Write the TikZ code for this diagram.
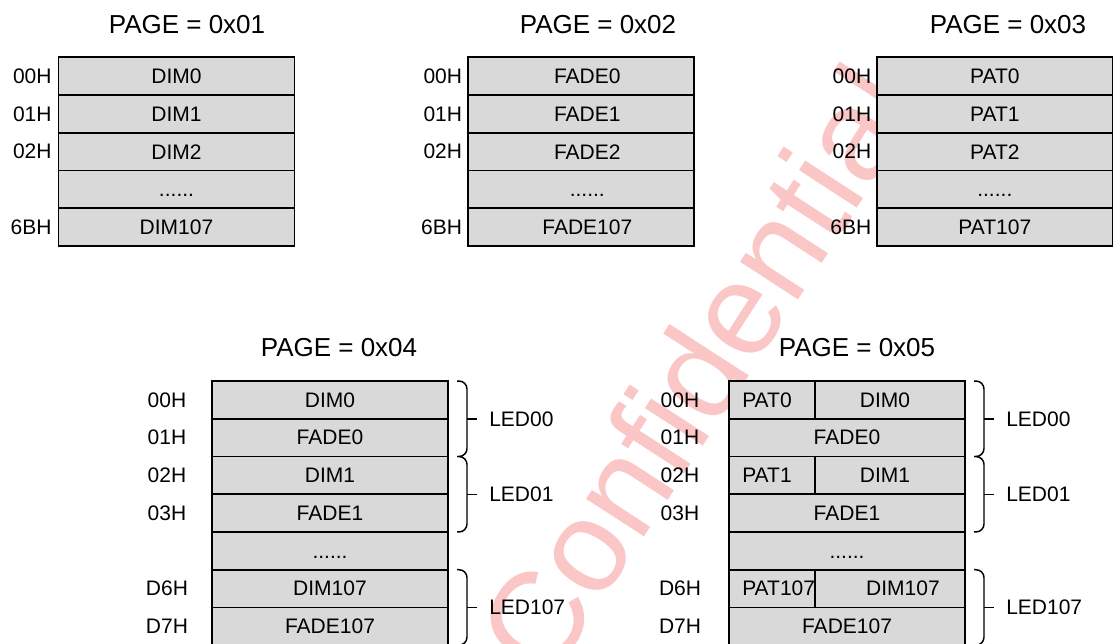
\documentclass[tikz,border=0pt]{standalone}
\usepackage{fontspec}
\setmainfont{Liberation Sans}
\usetikzlibrary{positioning}

\definecolor{cellgray}{RGB}{217,217,217}
\definecolor{markpink}{RGB}{250,198,198}
\newcommand{\cellfont}{\fontsize{15.75}{18}\selectfont}
\newcommand{\pagefont}{\fontsize{19.5}{22}\selectfont}

\tikzset{
  cell/.style={draw, fill=cellgray, line width=1.3pt, inner sep=0pt, outer sep=0pt,
    minimum height=28.3pt, font=\cellfont},
  wide/.style={cell, minimum width=177pt},
  narrow/.style={cell, minimum width=169.5pt},
  patcell/.style={cell, minimum width=64.5pt},
  dimcell/.style={cell, minimum width=112.5pt},
  txt/.style={inner sep=0pt, font=\cellfont},
  addr/.style={inner sep=0pt, font=\cellfont},
  pagetitle/.style={inner sep=0pt, font=\pagefont},
  ledbrace/.style={line width=1.1pt, rounded corners=6pt},
  watermark/.style={inner sep=0pt, text=markpink, rotate=57,
    font=\fontsize{98}{108}\selectfont},
}

\begin{document}
\begin{tikzpicture}[x=0.75pt,y=0.75pt,yscale=-1,xscale=1]
\useasboundingbox (0,0) rectangle (1113,643);

% Watermark
\node[watermark] (wm) at (697,370) {Confidential};

%PAGE = 0x01
\node[pagetitle] (p1) at (187,24.7) {PAGE = 0x01};
\node[wide] (b1a) at (176.5,76.2) {DIM0};
\node[wide, below=0pt of b1a] (b1b) {DIM1};
\node[wide, below=0pt of b1b] (b1c) {DIM2};
\node[wide, below=0pt of b1c] (b1d) {\vphantom{0}......};
\node[wide, below=0pt of b1d] (b1e) {DIM107};
% Text Node
\node[addr, left=5pt of b1a] (a1a) {00H};
\node[addr, left=5pt of b1b] (a1b) {01H};
\node[addr, left=5pt of b1c] (a1c) {02H};
\node[addr, left=5pt of b1e] (a1e) {6BH};

%PAGE = 0x02
\node[pagetitle] (p2) at (598,24.7) {PAGE = 0x02};
\node[narrow] (b2a) at (581.3,76.2) {};
\node[narrow, below=0pt of b2a] (b2b) {};
\node[narrow, below=0pt of b2b] (b2c) {};
\node[narrow, below=0pt of b2c] (b2d) {};
\node[narrow, below=0pt of b2d] (b2e) {};
% Text Node
\node[txt] (t2a) at ([xshift=4.5pt]b2a) {FADE0};
\node[txt] (t2b) at ([xshift=4.5pt]b2b) {FADE1};
\node[txt] (t2c) at ([xshift=4.5pt]b2c) {FADE2};
\node[txt] (t2d) at ([xshift=4.5pt]b2d) {\vphantom{0}......};
\node[txt] (t2e) at ([xshift=4.5pt]b2e) {FADE107};
\node[addr, left=4.5pt of b2a] (a2a) {00H};
\node[addr, left=4.5pt of b2b] (a2b) {01H};
\node[addr, left=4.5pt of b2c] (a2c) {02H};
\node[addr, left=4.5pt of b2e] (a2e) {6BH};

%PAGE = 0x03
\node[pagetitle] (p3) at (1008,24.7) {PAGE = 0x03};
\node[wide] (b3a) at (994.8,76.2) {PAT0};
\node[wide, below=0pt of b3a] (b3b) {PAT1};
\node[wide, below=0pt of b3b] (b3c) {PAT2};
\node[wide, below=0pt of b3c] (b3d) {\vphantom{0}......};
\node[wide, below=0pt of b3d] (b3e) {PAT107};
% Text Node
\node[addr, left=4pt of b3a] (a3a) {00H};
\node[addr, left=4pt of b3b] (a3b) {01H};
\node[addr, left=4pt of b3c] (a3c) {02H};
\node[addr, left=4pt of b3e] (a3e) {6BH};

%PAGE = 0x04
\node[pagetitle] (p4) at (339,348) {PAGE = 0x04};
\node[wide] (b4a) at (330,399.9) {DIM0};
\node[wide, below=0pt of b4a] (b4b) {FADE0};
\node[wide, below=0pt of b4b] (b4c) {DIM1};
\node[wide, below=0pt of b4c] (b4d) {FADE1};
\node[wide, below=0pt of b4d] (b4e) {\vphantom{0}......};
\node[wide, below=0pt of b4e] (b4f) {DIM107};
\node[wide, below=0pt of b4f] (b4g) {FADE107};
% Text Node
\node[addr] (a4a) at ([xshift=-33.75pt]b4a.west) {00H};
\node[addr] (a4b) at ([xshift=-33.75pt]b4b.west) {01H};
\node[addr] (a4c) at ([xshift=-33.75pt]b4c.west) {02H};
\node[addr] (a4d) at ([xshift=-33.75pt]b4d.west) {03H};
\node[addr] (a4f) at ([xshift=-33.75pt]b4f.west) {D6H};
\node[addr] (a4g) at ([xshift=-33.75pt]b4g.west) {D7H};
%Shape: Brace
\draw[ledbrace] ([xshift=6.75pt]b4a.north east) -| ([xshift=14.25pt]b4a.south east) |- ([xshift=6.75pt]b4b.south east);
\draw[ledbrace] ([xshift=14.25pt]b4a.south east) -- ([xshift=21.75pt]b4a.south east);
\node[addr, anchor=west] (led4a) at ([xshift=30.75pt]b4a.south east) {LED00};
\draw[ledbrace] ([xshift=6.75pt]b4c.north east) -| ([xshift=14.25pt]b4c.south east) |- ([xshift=6.75pt]b4d.south east);
\draw[ledbrace] ([xshift=14.25pt]b4c.south east) -- ([xshift=21.75pt]b4c.south east);
\node[addr, anchor=west] (led4c) at ([xshift=30.75pt]b4c.south east) {LED01};
\draw[ledbrace] ([xshift=6.75pt]b4f.north east) -| ([xshift=14.25pt]b4f.south east) |- ([xshift=6.75pt]b4g.south east);
\draw[ledbrace] ([xshift=14.25pt]b4f.south east) -- ([xshift=21.75pt]b4f.south east);
\node[addr, anchor=west] (led4f) at ([xshift=30.75pt]b4f.south east) {LED107};

%PAGE = 0x05
\node[pagetitle] (p5) at (857,348) {PAGE = 0x05};
\node[patcell] (b5pa) at (772,399.9) {};
\node[dimcell, right=0pt of b5pa] (b5da) {};
\node[wide, anchor=north west] (b5b) at (b5pa.south west) {FADE0};
\node[patcell, anchor=north west] (b5pc) at (b5b.south west) {};
\node[dimcell, right=0pt of b5pc] (b5dc) {};
\node[wide, anchor=north west] (b5d) at (b5pc.south west) {FADE1};
\node[wide, below=0pt of b5d] (b5e) {\vphantom{0}......};
\node[patcell, anchor=north west] (b5pf) at (b5e.south west) {};
\node[dimcell, right=0pt of b5pf] (b5df) {};
\node[wide, anchor=north west] (b5g) at (b5pf.south west) {FADE107};
% Text Node
\node[txt, anchor=west] (t5pa) at ([xshift=9.75pt]b5pa.west) {PAT0};
\node[txt] (t5da) at ([xshift=-3.75pt]b5da) {DIM0};
\node[txt, anchor=west] (t5pc) at ([xshift=9.75pt]b5pc.west) {PAT1};
\node[txt] (t5dc) at ([xshift=-3.75pt]b5dc) {DIM1};
\node[txt, anchor=west] (t5pf) at ([xshift=9.75pt]b5pf.west) {PAT107};
\node[txt] (t5df) at ([xshift=9.75pt]b5df) {DIM107};
\node[addr] (a5a) at ([xshift=-36.75pt]b5pa.west) {00H};
\node[addr] (a5b) at ([xshift=-36.75pt]b5b.west) {01H};
\node[addr] (a5c) at ([xshift=-36.75pt]b5pc.west) {02H};
\node[addr] (a5d) at ([xshift=-36.75pt]b5d.west) {03H};
\node[addr] (a5f) at ([xshift=-36.75pt]b5pf.west) {D6H};
\node[addr] (a5g) at ([xshift=-36.75pt]b5g.west) {D7H};
%Shape: Brace
\draw[ledbrace] ([xshift=6.75pt]b5da.north east) -| ([xshift=14.25pt]b5da.south east) |- ([xshift=6.75pt]b5b.south east);
\draw[ledbrace] ([xshift=14.25pt]b5da.south east) -- ([xshift=21.75pt]b5da.south east);
\node[addr, anchor=west] (led5a) at ([xshift=30.75pt]b5da.south east) {LED00};
\draw[ledbrace] ([xshift=6.75pt]b5dc.north east) -| ([xshift=14.25pt]b5dc.south east) |- ([xshift=6.75pt]b5d.south east);
\draw[ledbrace] ([xshift=14.25pt]b5dc.south east) -- ([xshift=21.75pt]b5dc.south east);
\node[addr, anchor=west] (led5c) at ([xshift=30.75pt]b5dc.south east) {LED01};
\draw[ledbrace] ([xshift=6.75pt]b5df.north east) -| ([xshift=14.25pt]b5df.south east) |- ([xshift=6.75pt]b5g.south east);
\draw[ledbrace] ([xshift=14.25pt]b5df.south east) -- ([xshift=21.75pt]b5df.south east);
\node[addr, anchor=west] (led5f) at ([xshift=30.75pt]b5df.south east) {LED107};

\end{tikzpicture}
\end{document}
